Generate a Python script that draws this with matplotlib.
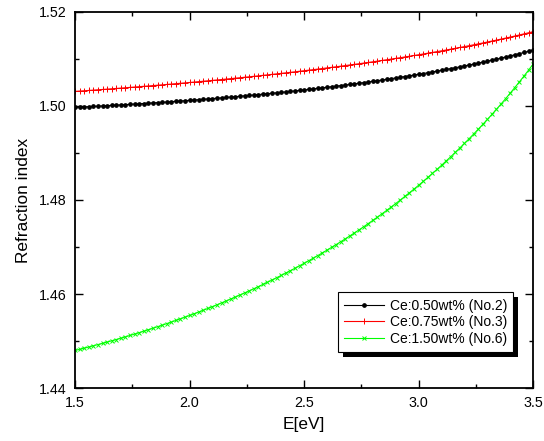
#!/usr/bin/env python3
import matplotlib
matplotlib.use("Agg")
import matplotlib.pyplot as plt
from matplotlib.patches import Rectangle
from matplotlib.transforms import IdentityTransform
from matplotlib.ticker import MultipleLocator

plt.rcParams["font.family"] = ["Liberation Sans", "DejaVu Sans"]

energy = [
    1.50, 1.52, 1.54, 1.56, 1.58, 1.60, 1.62, 1.64, 1.66, 1.68,
    1.70, 1.72, 1.74, 1.76, 1.78, 1.80, 1.82, 1.84, 1.86, 1.88,
    1.90, 1.92, 1.94, 1.96, 1.98, 2.00, 2.02, 2.04, 2.06, 2.08,
    2.10, 2.12, 2.14, 2.16, 2.18, 2.20, 2.22, 2.24, 2.26, 2.28,
    2.30, 2.32, 2.34, 2.36, 2.38, 2.40, 2.42, 2.44, 2.46, 2.48,
    2.50, 2.52, 2.54, 2.56, 2.58, 2.60, 2.62, 2.64, 2.66, 2.68,
    2.70, 2.72, 2.74, 2.76, 2.78, 2.80, 2.82, 2.84, 2.86, 2.88,
    2.90, 2.92, 2.94, 2.96, 2.98, 3.00, 3.02, 3.04, 3.06, 3.08,
    3.10, 3.12, 3.14, 3.16, 3.18, 3.20, 3.22, 3.24, 3.26, 3.28,
    3.30, 3.32, 3.34, 3.36, 3.38, 3.40, 3.42, 3.44, 3.46, 3.48,
    3.50,
]

# Ce:0.50wt% (No.2)
n_no2 = [
    1.49970, 1.49975, 1.49980, 1.49985, 1.49990, 1.49995, 1.50000, 1.50006, 1.50011, 1.50017,
    1.50022, 1.50028, 1.50034, 1.50040, 1.50046, 1.50052, 1.50058, 1.50065, 1.50071, 1.50077,
    1.50084, 1.50091, 1.50098, 1.50105, 1.50112, 1.50119, 1.50126, 1.50134, 1.50141, 1.50149,
    1.50157, 1.50164, 1.50173, 1.50181, 1.50189, 1.50197, 1.50206, 1.50215, 1.50223, 1.50232,
    1.50241, 1.50251, 1.50260, 1.50270, 1.50279, 1.50289, 1.50299, 1.50309, 1.50320, 1.50330,
    1.50341, 1.50352, 1.50363, 1.50374, 1.50385, 1.50397, 1.50409, 1.50420, 1.50433, 1.50445,
    1.50457, 1.50470, 1.50483, 1.50496, 1.50510, 1.50523, 1.50537, 1.50551, 1.50565, 1.50580,
    1.50595, 1.50610, 1.50625, 1.50641, 1.50657, 1.50673, 1.50689, 1.50706, 1.50723, 1.50740,
    1.50758, 1.50776, 1.50794, 1.50812, 1.50831, 1.50851, 1.50870, 1.50890, 1.50911, 1.50931,
    1.50952, 1.50974, 1.50996, 1.51018, 1.51041, 1.51064, 1.51088, 1.51112, 1.51137, 1.51162,
    1.51188,
]

# Ce:0.75wt% (No.3)
n_no3 = [
    1.50310, 1.50317, 1.50323, 1.50330, 1.50337, 1.50344, 1.50351, 1.50358, 1.50365, 1.50372,
    1.50380, 1.50387, 1.50395, 1.50402, 1.50410, 1.50418, 1.50425, 1.50433, 1.50441, 1.50449,
    1.50457, 1.50466, 1.50474, 1.50482, 1.50491, 1.50499, 1.50508, 1.50517, 1.50526, 1.50535,
    1.50544, 1.50553, 1.50562, 1.50572, 1.50581, 1.50591, 1.50600, 1.50610, 1.50620, 1.50630,
    1.50640, 1.50651, 1.50661, 1.50672, 1.50682, 1.50693, 1.50704, 1.50715, 1.50726, 1.50738,
    1.50749, 1.50761, 1.50772, 1.50784, 1.50796, 1.50809, 1.50821, 1.50833, 1.50846, 1.50859,
    1.50872, 1.50885, 1.50898, 1.50912, 1.50925, 1.50939, 1.50953, 1.50968, 1.50982, 1.50997,
    1.51012, 1.51026, 1.51042, 1.51057, 1.51073, 1.51089, 1.51105, 1.51122, 1.51138, 1.51155,
    1.51172, 1.51190, 1.51208, 1.51225, 1.51244, 1.51262, 1.51281, 1.51300, 1.51320, 1.51339,
    1.51360, 1.51380, 1.51401, 1.51422, 1.51443, 1.51465, 1.51487, 1.51510, 1.51533, 1.51556,
    1.51580,
]

# Ce:1.50wt% (No.6)
n_no6 = [
    1.44800, 1.44824, 1.44849, 1.44874, 1.44900, 1.44925, 1.44952, 1.44979, 1.45006, 1.45033,
    1.45062, 1.45090, 1.45120, 1.45149, 1.45179, 1.45210, 1.45241, 1.45273, 1.45305, 1.45337,
    1.45371, 1.45404, 1.45439, 1.45473, 1.45509, 1.45545, 1.45581, 1.45618, 1.45656, 1.45694,
    1.45733, 1.45772, 1.45813, 1.45853, 1.45895, 1.45937, 1.45980, 1.46023, 1.46067, 1.46112,
    1.46157, 1.46204, 1.46250, 1.46298, 1.46347, 1.46396, 1.46446, 1.46497, 1.46548, 1.46601,
    1.46654, 1.46708, 1.46763, 1.46819, 1.46876, 1.46934, 1.46993, 1.47052, 1.47113, 1.47174,
    1.47237, 1.47301, 1.47365, 1.47431, 1.47498, 1.47566, 1.47635, 1.47706, 1.47777, 1.47850,
    1.47924, 1.47999, 1.48076, 1.48154, 1.48233, 1.48313, 1.48395, 1.48479, 1.48564, 1.48650,
    1.48738, 1.48828, 1.48919, 1.49012, 1.49107, 1.49203, 1.49301, 1.49401, 1.49503, 1.49607,
    1.49712, 1.49820, 1.49930, 1.50042, 1.50156, 1.50272, 1.50391, 1.50512, 1.50635, 1.50761,
    1.50890,
]

labels = ["Ce:0.50wt% (No.2)", "Ce:0.75wt% (No.3)", "Ce:1.50wt% (No.6)"]


def main() -> None:
    fig = plt.figure(figsize=(5.44, 4.41), dpi=100)
    ax = fig.add_axes([0.138, 0.120, 0.842, 0.853])

    ax.plot(energy, n_no2, color="black", lw=0.8, marker="o", ms=2.4,
            mec="black", label=labels[0])
    ax.plot(energy, n_no3, color="#ff0000", lw=0.8, marker="+", ms=4.0,
            mew=0.7, label=labels[1])
    ax.plot(energy, n_no6, color="#00ff00", lw=0.8, marker="x", ms=3.2,
            mew=0.7, label=labels[2])

    ax.set_xlim(1.5, 3.5)
    ax.set_ylim(1.44, 1.52)
    ax.xaxis.set_major_locator(MultipleLocator(0.5))
    ax.xaxis.set_minor_locator(MultipleLocator(0.25))
    ax.yaxis.set_major_locator(MultipleLocator(0.02))
    ax.yaxis.set_minor_locator(MultipleLocator(0.01))
    ax.xaxis.set_major_formatter(plt.FormatStrFormatter("%.1f"))
    ax.yaxis.set_major_formatter(plt.FormatStrFormatter("%.2f"))

    ax.tick_params(which="both", direction="in", top=True, right=True,
                   labelsize=10.3, width=1.0, pad=6)
    ax.tick_params(which="major", length=5.5)
    ax.tick_params(which="minor", length=3)
    for sp in ax.spines.values():
        sp.set_linewidth(1.3)

    ax.set_xlabel("E[eV]", fontsize=12.4, labelpad=5)
    ax.set_ylabel("Refraction index", fontsize=12.4, labelpad=6)

    leg = ax.legend(loc="lower right", bbox_to_anchor=(0.957, 0.095),
                    borderaxespad=0, fontsize=10, numpoints=1,
                    handlelength=2.9, handletextpad=0.4, labelspacing=0.2,
                    borderpad=0.45, fancybox=False, framealpha=1,
                    edgecolor="black")
    leg.get_frame().set_linewidth(0.8)

    # Origin-style solid black drop shadow behind the legend box
    fig.canvas.draw()
    bb = leg.get_window_extent()
    shadow = Rectangle((bb.x0 + 5, bb.y0 - 5), bb.width, bb.height,
                       transform=IdentityTransform(), facecolor="black",
                       edgecolor="none", zorder=4.9)
    ax.add_artist(shadow)

    fig.savefig("out.png", dpi=100)
    plt.close(fig)


if __name__ == "__main__":
    main()
